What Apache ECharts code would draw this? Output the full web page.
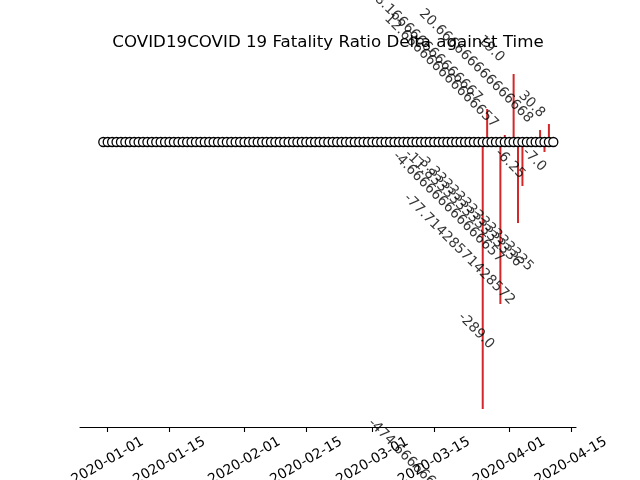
<!DOCTYPE html>
<html>
<head>
<meta charset="utf-8">
<script src="https://cdn.jsdelivr.net/npm/echarts@6/dist/echarts.min.js"></script>
<style>html,body{margin:0;padding:0;background:#fff}#c{width:640px;height:480px}</style>
</head>
<body>
<div id="c"></div>
<script>
// ---- data ----
const titleText = 'COVID19COVID 19 Fatality Ratio Delta against Time';
const firstDate = '2019-12-31';
const dayCount = 103; // daily observations, 2019-12-31 .. 2020-04-11
const tickLabels = ['2020-01-01','2020-01-15','2020-02-01','2020-02-15','2020-03-01','2020-03-15','2020-04-01','2020-04-15'];
const lineDates = ['2020-03-26','2020-03-27','2020-03-30','2020-03-31','2020-04-02','2020-04-03','2020-04-04','2020-04-08','2020-04-09','2020-04-10'];
const lineValues = [-289, 35.7, -175.3, 7.6, 73.6, -87.7, -47.6, 13, -10.8, 19.5];
const labelTexts = ['-474.6666666666667','-77.71428571428572','-289.0','-4.666666666666657','-11.833333333333336','-3.3333333333333335','-6.25','-7.0','30.8','19.0','20.666666666666668','12.666666666666657','8.166666666666667'];
const labelDay = [59.5, 67.6, 79.9, 65.1, 67.8, 70.4, 88.3, 94.5, 93.6, 84.4, 71.1, 63.2, 61.0];
const labelY = [-301.9, -58.4, -187.2, -13.0, -10.8, -15.2, -9.7, -8.7, 52.5, 112.6, 141.2, 135.8, 156.9];

// ---- helpers ----
const DAY = 86400000;
const origin = Date.UTC(2020, 0, 1);
function dayOf(s) { const p = s.split('-').map(Number); return (Date.UTC(p[0], p[1] - 1, p[2]) - origin) / DAY; }
const startDay = dayOf(firstDate);
const markerData = [];
for (let i = 0; i < dayCount; i++) markerData.push([startDay + i, 0]);
const tickDays = tickLabels.map(dayOf);
const lineData = lineDates.map((d, i) => [dayOf(d), lineValues[i]]);
const labelData = labelTexts.map((t, i) => ({ name: t, value: [labelDay[i], labelY[i]] }));

const chart = echarts.init(document.getElementById('c'));
chart.setOption({
  animation: false,
  backgroundColor: '#fff',
  title: {
    text: titleText, left: 328, top: 34, textAlign: 'center', padding: 0,
    textStyle: { fontFamily: 'DejaVu Sans', fontSize: 16.67, fontWeight: 'normal', color: '#000' }
  },
  grid: { left: 80, right: 64, top: 58, bottom: 53, containLabel: false, outerBoundsMode: 'none' },
  xAxis: {
    type: 'value', min: -6.28, max: 106.14,
    axisLine: { show: true, onZero: false, lineStyle: { color: '#000', width: 1.1 } },
    axisTick: { show: true, length: 5, customValues: tickDays, lineStyle: { color: '#000', width: 1.1 } },
    splitLine: { show: false },
    axisLabel: {
      customValues: tickDays, rotate: 30, margin: 34, align: 'center', verticalAlign: 'middle',
      fontFamily: 'DejaVu Sans', fontSize: 13.89, color: '#000',
      formatter: v => { const i = tickDays.findIndex(t => Math.abs(t - v) < 1e-6); return i >= 0 ? tickLabels[i] : ''; }
    }
  },
  yAxis: { type: 'value', min: -308.4, max: 90.9, show: false, splitLine: { show: false } },
  series: [
    {
      type: 'custom', z: 2, clip: false,
      data: lineData,
      renderItem: (params, api) => {
        const p0 = api.coord([api.value(0), 0]);
        const p1 = api.coord([api.value(0), api.value(1)]);
        return { type: 'line', shape: { x1: p0[0], y1: p0[1], x2: p1[0], y2: p1[1] },
                 style: { stroke: '#d62728', lineWidth: 2 } };
      }
    },
    {
      type: 'scatter', z: 3, symbol: 'circle', symbolSize: 9, clip: false,
      data: markerData,
      itemStyle: { color: '#fff', borderColor: '#000', borderWidth: 1.3, opacity: 1 }
    },
    {
      type: 'scatter', z: 4, symbol: 'circle', symbolSize: 1, clip: false,
      data: labelData,
      itemStyle: { color: 'rgba(0,0,0,0)' },
      label: {
        show: true, formatter: '{b}', position: 'inside', rotate: -45,
        align: 'left', verticalAlign: 'middle',
        fontFamily: 'DejaVu Sans', fontSize: 13.89, color: '#000'
      }
    }
  ]
});
</script>
</body>
</html>
